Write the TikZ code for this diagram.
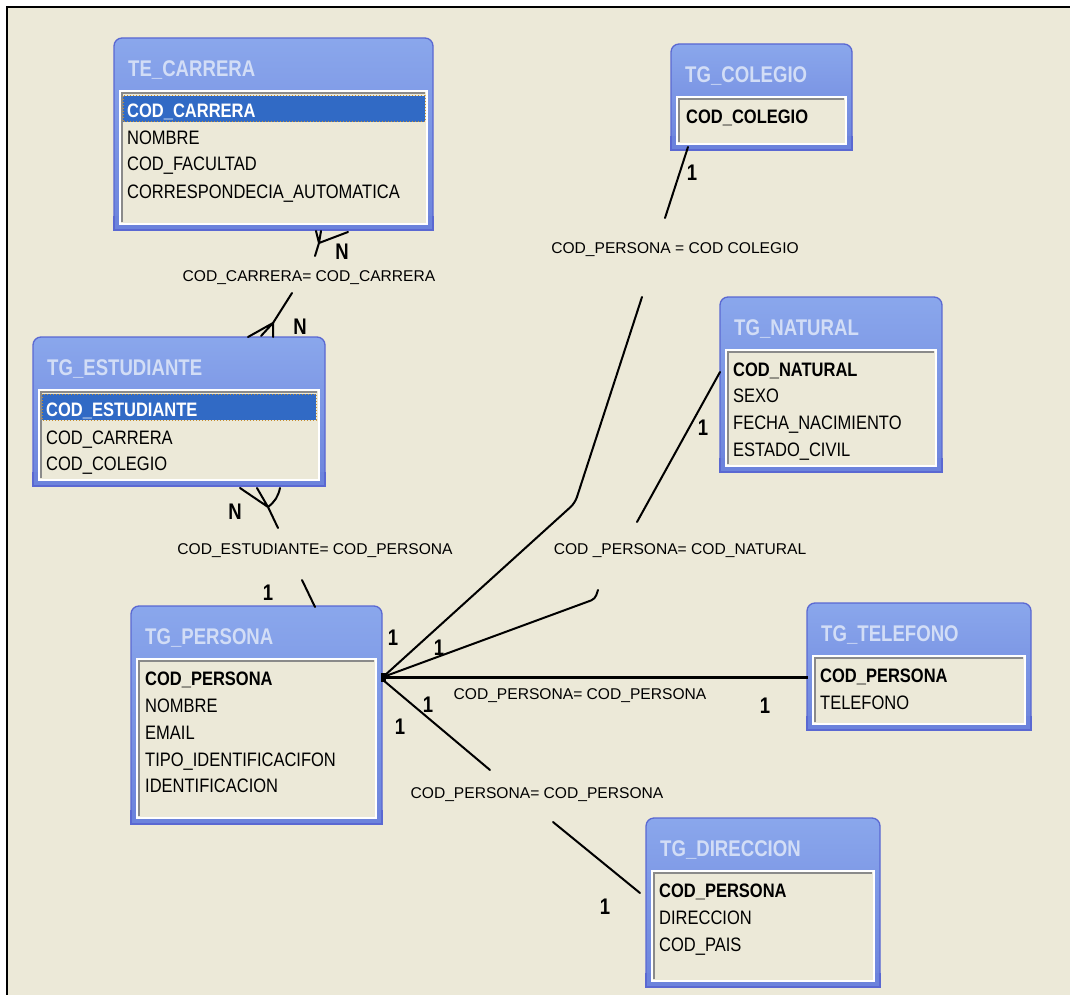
\documentclass[tikz,border=0pt]{standalone}
\usepackage{fontspec}
\setmainfont{Liberation Sans}
\usetikzlibrary{calc}
\definecolor{bg}{HTML}{ECE9D8}
\definecolor{hdrtop}{HTML}{8AA7EC}
\definecolor{hdrbot}{HTML}{6C83DC}
\definecolor{boxedge}{HTML}{5A68D2}
\definecolor{titletext}{HTML}{D2DDF6}
\definecolor{selblue}{HTML}{316AC5}
\definecolor{panelgray}{HTML}{8A8A8A}
\definecolor{focusdot}{HTML}{C89030}

\tikzset{
  rel/.style={line width=2pt, black, line cap=round, line join=round},
  titletxt/.style={anchor=base west, inner sep=0pt, text=titletext, font=\fontsize{18.6}{22}\selectfont\bfseries},
  fieldtxt/.style={anchor=base west, inner sep=0pt, text=black, font=\fontsize{16.5}{20}\selectfont},
  keytxt/.style={fieldtxt, font=\fontsize{16.5}{20}\selectfont\bfseries},
  seltxt/.style={fieldtxt, text=white, font=\fontsize{16.5}{20}\selectfont\bfseries},
  rellbl/.style={anchor=base, inner sep=0pt, font=\fontsize{15.6}{18}\selectfont},
  card/.style={anchor=center, inner sep=0pt, font=\fontsize{18.5}{22}\selectfont\bfseries},
}

% #1 title node name, #2 title, #3 x1, #4 y1, #5 x2, #6 y2
\newcommand\erdtable[6]{%
  \draw[boxedge, line width=1.3pt, top color=hdrtop, bottom color=hdrbot, rounded corners=8pt] (#3,#4) rectangle (#5,#6);
  \fill[hdrbot] (#3+0.8,#6-14) rectangle (#5-0.8,#6-0.8);
  \draw[boxedge, line width=1.3pt] (#3,#6-14) -- (#3,#6) -- (#5,#6) -- (#5,#6-14);
  \fill[bg] (#3+6,#4+53) rectangle (#5-6,#6-6);
  \draw[white, line width=1.6pt] (#3+6,#4+53) rectangle (#5-6,#6-6);
  \draw[panelgray, line width=1.2pt] (#3+8,#6-8) -- (#3+8,#4+55) -- (#5-8,#4+55);
  \node[titletxt] (#1) at (#3+14,#4+30+8.4) {\scalebox{1}[1.22]{#2}};
}
% #1 name, #2 x, #3 center y, #4 style, #5 text
\newcommand\fld[5]{\node[#4] (#1) at (#2,#3+7) {\scalebox{1}[1.18]{#5}};}
\newcommand\crd[4]{\node[card] (#1) at (#2,#3) {\scalebox{1}[1.22]{#4}};}

\begin{document}
\begin{tikzpicture}[x=1pt,y=-1pt]
\useasboundingbox (0,0) rectangle (1070,995);
\fill[white] (0,0) rectangle (1070,995);
\fill[bg] (7,7) rectangle (1070,995);
\draw[line width=2.5pt] (7,995) -- (7,7) -- (1070,7);

% ---------- tables ----------
\erdtable{tcarrera}{TE\_CARRERA}{114}{38}{433}{230}
\fill[selblue] (123,96) rectangle (425,122);
\draw[focusdot, line width=1pt, dotted] (123,96) rectangle (425,122);
\fld{f-cc}{127}{111}{seltxt}{COD\_CARRERA}
\fld{f-cn}{127}{138}{fieldtxt}{NOMBRE}
\fld{f-cf}{127}{164}{fieldtxt}{COD\_FACULTAD}
\fld{f-ca}{127}{191}{fieldtxt}{CORRESPONDECIA\_AUTOMATICA}

\erdtable{testud}{TG\_ESTUDIANTE}{33}{337}{325}{486}
\fill[selblue] (42,394) rectangle (316,420);
\draw[focusdot, line width=1pt, dotted] (42,394) rectangle (316,420);
\fld{f-ee}{46}{409}{seltxt}{COD\_ESTUDIANTE}
\fld{f-ec}{46}{437}{fieldtxt}{COD\_CARRERA}
\fld{f-eg}{46}{463}{fieldtxt}{COD\_COLEGIO}

\erdtable{tpersona}{TG\_PERSONA}{131}{606}{382}{824}
\fld{f-pp}{145}{678}{keytxt}{COD\_PERSONA}
\fld{f-pn}{145}{705}{fieldtxt}{NOMBRE}
\fld{f-pe}{145}{732}{fieldtxt}{EMAIL}
\fld{f-pt}{145}{759}{fieldtxt}{TIPO\_IDENTIFICACIFON}
\fld{f-pi}{145}{785}{fieldtxt}{IDENTIFICACION}

\erdtable{tcolegio}{TG\_COLEGIO}{671}{44}{852}{150}
\fld{f-gc}{686}{117}{keytxt}{COD\_COLEGIO}

\erdtable{tnatural}{TG\_NATURAL}{720}{297}{942}{472}
\fld{f-nc}{733}{369}{keytxt}{COD\_NATURAL}
\fld{f-ns}{733}{395}{fieldtxt}{SEXO}
\fld{f-nf}{733}{422}{fieldtxt}{FECHA\_NACIMIENTO}
\fld{f-ne}{733}{449}{fieldtxt}{ESTADO\_CIVIL}

\erdtable{ttelef}{TG\_TELEFONO}{807}{603}{1031}{730}
\fld{f-tp}{820}{675}{keytxt}{COD\_PERSONA}
\fld{f-tt}{820}{702}{fieldtxt}{TELEFONO}

\erdtable{tdirec}{TG\_DIRECCION}{646}{818}{880}{987}
\fld{f-dp}{659}{890}{keytxt}{COD\_PERSONA}
\fld{f-dd}{659}{917}{fieldtxt}{DIRECCION}
\fld{f-dc}{659}{944}{fieldtxt}{COD\_PAIS}

% ---------- connector coordinates ----------
\coordinate (k1t) at (319,243);
\coordinate (k1s) at (315,256);
\coordinate (k1u) at (292,293);
\coordinate (k1b) at (273,323);
\coordinate (k2t) at (268,507);
\coordinate (k2s) at (278,528);
\coordinate (k2u) at (302,580);
\coordinate (k2b) at (315,607);
\coordinate (hub) at (383,677);
\coordinate (k3a) at (688,147);
\coordinate (k3s) at (665,218);
\coordinate (k3u) at (642,297);
\coordinate (k3m) at (575,503);
\coordinate (k4a) at (720,372);
\coordinate (k4s) at (637,522);
\coordinate (k4u) at (598,590);
\coordinate (k4m) at (595,599);
\coordinate (k5b) at (808,677);
\coordinate (hub2) at (383,680);
\coordinate (k6s) at (490,770);
\coordinate (k6u) at (553,822);
\coordinate (k6b) at (640,893);

% C1 carrera - estudiante (crow's feet both ends)
\draw[rel] (k1t) -- (316,231) (k1t) -- (321,231) (k1t) -- (348,232) (k1t) -- (k1s);
\draw[rel] (k1u) -- (k1b);
\draw[rel] (k1b) -- (248,337) (k1b) -- (261,336) (k1b) -- (273,337);
% C2 estudiante - persona
\draw[rel] (k2t) -- (240,488) (k2t) -- (257,488) (k2t) to[bend right=20] (280,488) (k2t) -- (k2s);
\draw[rel] (k2u) -- (k2b);
% C3 colegio - persona
\draw[rel] (k3a) -- (k3s);
\draw[rel, rounded corners=6pt] (k3u) -- (k3m) -- (hub);
% C4 natural - persona
\draw[rel] (k4a) -- (k4s);
\draw[rel, rounded corners=4pt] (k4u) -- (k4m) -- (hub);
% C5 persona - telefono
\draw[line width=3pt, black] (hub) -- (k5b);
% C6 persona - direccion
\draw[rel] (hub2) -- (k6s);
\draw[rel] (k6u) -- (k6b);
\fill[black] (381,673) rectangle (386,682);

% ---------- relation labels ----------
\node[rellbl] (l1) at (309,281) {COD\_CARRERA= COD\_CARRERA};
\node[rellbl] (l2) at (315,554) {COD\_ESTUDIANTE= COD\_PERSONA};
\node[rellbl] (l3) at (675,253) {COD\_PERSONA = COD COLEGIO};
\node[rellbl] (l4) at (680,554) {COD \_PERSONA= COD\_NATURAL};
\node[rellbl] (l5) at (580,699) {COD\_PERSONA= COD\_PERSONA};
\node[rellbl] (l6) at (537,798) {COD\_PERSONA= COD\_PERSONA};

% ---------- cardinalities ----------
\crd{n1}{342}{252}{N}
\crd{n2}{300}{327}{N}
\crd{n3}{235}{512}{N}
\crd{o1}{268}{593}{1}
\crd{o2}{692}{173}{1}
\crd{o3}{393}{638}{1}
\crd{o4}{703}{428}{1}
\crd{o5}{439}{648}{1}
\crd{o6}{428}{705}{1}
\crd{o7}{765}{706}{1}
\crd{o8}{400}{727}{1}
\crd{o9}{605}{907}{1}
\end{tikzpicture}
\end{document}
